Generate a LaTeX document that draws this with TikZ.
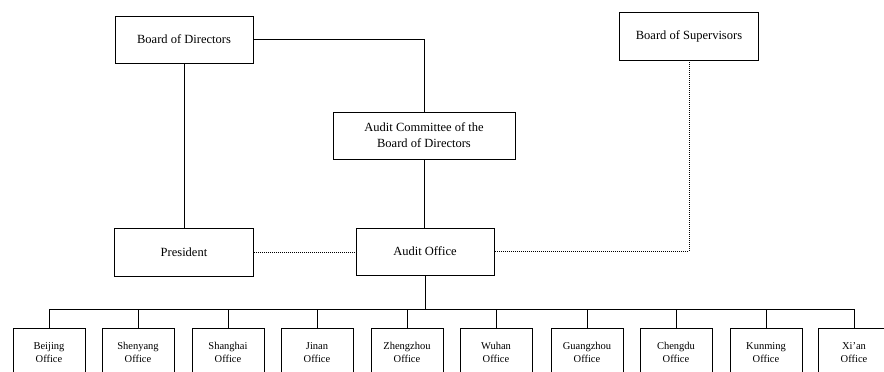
\documentclass[tikz,border=0pt]{standalone}
\usepackage{fontspec}
\setmainfont{Liberation Serif}
\usepackage{tikz}

\tikzset{
  unit/.style={draw, line width=0.9pt, align=center, inner sep=2pt,
    font=\fontsize{12.5}{16}\selectfont},
  office/.style={draw, line width=0.9pt, align=center, anchor=north,
    minimum width=72pt, minimum height=48pt, font=\fontsize{10.5}{13}\selectfont},
  link/.style={line width=0.7pt},
  dotlink/.style={line width=0.7pt, dash pattern=on 1pt off 1pt}
}

\begin{document}
\begin{tikzpicture}[x=1pt, y=-1pt]
        \clip (0,0) rectangle (884,372);
        \fill[white] (0,0) rectangle (884,372);

        \node[unit, minimum width=138pt, minimum height=47pt] (bod) at (184,39.5) {Board of Directors};
        \node[unit, minimum width=182pt, minimum height=47pt] (ac) at (424,135.5) {Audit Committee of the\\Board of Directors};
        \node[unit, minimum width=139pt, minimum height=48pt] (bos) at (689,36) {Board of Supervisors};
        \node[unit, minimum width=139pt, minimum height=48pt] (pres) at (184,252) {President};
        \node[unit, minimum width=138pt, minimum height=47pt] (ao) at (425,251.5) {Audit Office};

        %solid lines
        \draw[link] (bod.east) -| (ac.north);
        \draw[link] (bod.south) -- (pres.north);
        \draw[link] (ac.south) -- (ac.south |- ao.north);

        %dotted lines
        \draw[dotlink] (pres.east) -- (pres.east -| ao.west);
        \draw[dotlink] (bos.south) |- (ao.east);

        %offices
        \coordinate (bus) at (425,309);
        \foreach \x/\name/\city in {49/bj/Beijing, 138/sy/Shenyang, 228/sh/Shanghai, 317/jn/Jinan,
            407/zz/Zhengzhou, 496/wh/Wuhan, 587/gz/Guangzhou, 676/cd/Chengdu, 766/km/Kunming, 854/xa/Xi'an} {
            \node[office] (\name) at (\x,328) {\city\\Office};
            \draw[link] (ao.south) -- (ao.south |- bus) -| (\name.north);
        }
    \end{tikzpicture}
\end{document}
